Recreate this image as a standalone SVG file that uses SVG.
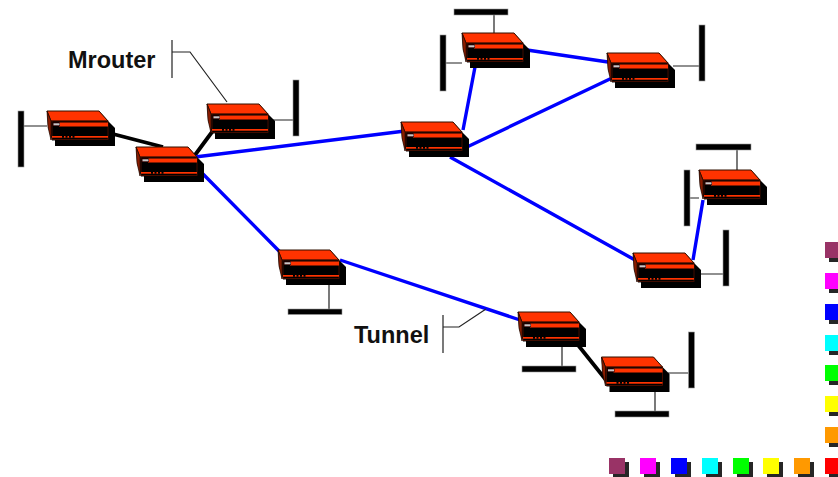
<svg xmlns="http://www.w3.org/2000/svg" width="838" height="477" viewBox="0 0 838 477">
<style>
.t{font-family:"Liberation Sans",Arial,sans-serif;font-weight:bold;font-size:23.500px;fill:#111}
.blue{stroke:#0000ff;stroke-width:3.400;fill:none}
.black{stroke:#000;stroke-width:3.800;fill:none}
.thin{stroke:#222;stroke-width:1.200;fill:none}
.bar{fill:#000;stroke:#999;stroke-width:.6}
.sh{fill:#262626}
</style>
<defs>
<g id="router">
<polygon points="8,14 61,10 68,17 68,35 8,35" fill="#000"/>
<polygon points="0,0 52,0 61,10 61,28 5,29.500 1,16" fill="#000"/>
<polygon points="0,0 52,0 61,10 4,10" fill="#ff3300" stroke="#301000" stroke-width="1"/>
<polygon points="0,0 4,10 4,29 1,16" fill="#8a1c00" stroke="#200800" stroke-width=".7"/>
<rect x="5" y="10" width="56" height="18.500" fill="#000" stroke="#501000" stroke-width=".8"/>
<rect x="12" y="11.500" width="49" height="4" fill="#ff3300"/>
<rect x="6" y="11.500" width="7" height="3.500" fill="#300"/>
<rect x="6.500" y="12.300" width="6" height="2" fill="#c8c8c8"/>
<rect x="5" y="25" width="56" height="1.700" fill="#ff3300"/>
<path d="M15,25.800H28" stroke="#000" stroke-width="1.700" stroke-dasharray="2 1.500" fill="none"/>
</g>
</defs>
<g id="connectors">
<path class="black" d="M113,134L163,147M195,155L212,132M578,345L606,380"/>
<path class="blue" d="M195,157L405,131M203,174L280,252M340,260L520,320M463,130L475,67M467,147L612,78M527,50L608,62M450,157L635,260M693,260L703,200"/>
<path class="thin" d="M24,126H47M272,120H293M329,285V309M494,15V33M446,63H462M673,66H699M737,150V170M690,198H699M700,274H723M668,373H688M655,392V411M562,347V366"/>
<path class="thin" d="M172,40V78M172,52H190L227,102M443,315V353M443,327H459L486,309"/>
</g>
<g id="bars">
<rect class="bar" x="18" y="111" width="6" height="56"/>
<rect class="bar" x="293" y="80" width="6" height="56"/>
<rect class="bar" x="288" y="309" width="54" height="5.500"/>
<rect class="bar" x="454" y="9" width="54" height="6"/>
<rect class="bar" x="440" y="35" width="6" height="56"/>
<rect class="bar" x="699" y="25" width="6" height="56"/>
<rect class="bar" x="696" y="144" width="55" height="6"/>
<rect class="bar" x="684" y="170" width="6" height="56"/>
<rect class="bar" x="723" y="230" width="6" height="56"/>
<rect class="bar" x="688.500" y="332" width="6" height="56"/>
<rect class="bar" x="615" y="411" width="54" height="6"/>
<rect class="bar" x="522" y="366" width="54" height="6"/>
</g>
<g id="r1"><use href="#router" x="47" y="111"/></g>
<g id="r2"><use href="#router" x="136" y="147"/></g>
<g id="r3"><use href="#router" x="207" y="104"/></g>
<g id="r4"><use href="#router" x="278" y="250"/></g>
<g id="r5"><use href="#router" x="401" y="122"/></g>
<g id="r6"><use href="#router" x="462" y="33"/></g>
<g id="r7"><use href="#router" x="607" y="53"/></g>
<g id="r8"><use href="#router" x="699" y="170"/></g>
<g id="r9"><use href="#router" x="633" y="253"/></g>
<g id="r10"><use href="#router" x="518" y="312"/></g>
<g id="r11"><use href="#router" x="601.500" y="357"/></g>
<text class="t" x="68" y="68">Mrouter</text>
<text class="t" x="354" y="343">Tunnel</text>
<g id="palette">
<rect class="sh" x="829" y="246" width="16" height="16"/><rect x="825" y="242" width="16" height="16" fill="#993366"/>
<rect class="sh" x="829" y="277" width="16" height="16"/><rect x="825" y="273" width="16" height="16" fill="#ff00ff"/>
<rect class="sh" x="829" y="308" width="16" height="16"/><rect x="825" y="304" width="16" height="16" fill="#0000ff"/>
<rect class="sh" x="829" y="339" width="16" height="16"/><rect x="825" y="335" width="16" height="16" fill="#00ffff"/>
<rect class="sh" x="829" y="369" width="16" height="16"/><rect x="825" y="365" width="16" height="16" fill="#00ff00"/>
<rect class="sh" x="829" y="400" width="16" height="16"/><rect x="825" y="396" width="16" height="16" fill="#ffff00"/>
<rect class="sh" x="829" y="431" width="16" height="16"/><rect x="825" y="427" width="16" height="16" fill="#ff9900"/>
<rect class="sh" x="613" y="462" width="16" height="16"/><rect x="609" y="458" width="16" height="16" fill="#993366"/>
<rect class="sh" x="644" y="462" width="16" height="16"/><rect x="640" y="458" width="16" height="16" fill="#ff00ff"/>
<rect class="sh" x="675" y="462" width="16" height="16"/><rect x="671" y="458" width="16" height="16" fill="#0000ff"/>
<rect class="sh" x="706" y="462" width="16" height="16"/><rect x="702" y="458" width="16" height="16" fill="#00ffff"/>
<rect class="sh" x="737" y="462" width="16" height="16"/><rect x="733" y="458" width="16" height="16" fill="#00ff00"/>
<rect class="sh" x="767" y="462" width="16" height="16"/><rect x="763" y="458" width="16" height="16" fill="#ffff00"/>
<rect class="sh" x="798" y="462" width="16" height="16"/><rect x="794" y="458" width="16" height="16" fill="#ff9900"/>
<rect class="sh" x="829" y="462" width="16" height="16"/><rect x="825" y="458" width="16" height="16" fill="#ff0000"/>
</g>
</svg>
